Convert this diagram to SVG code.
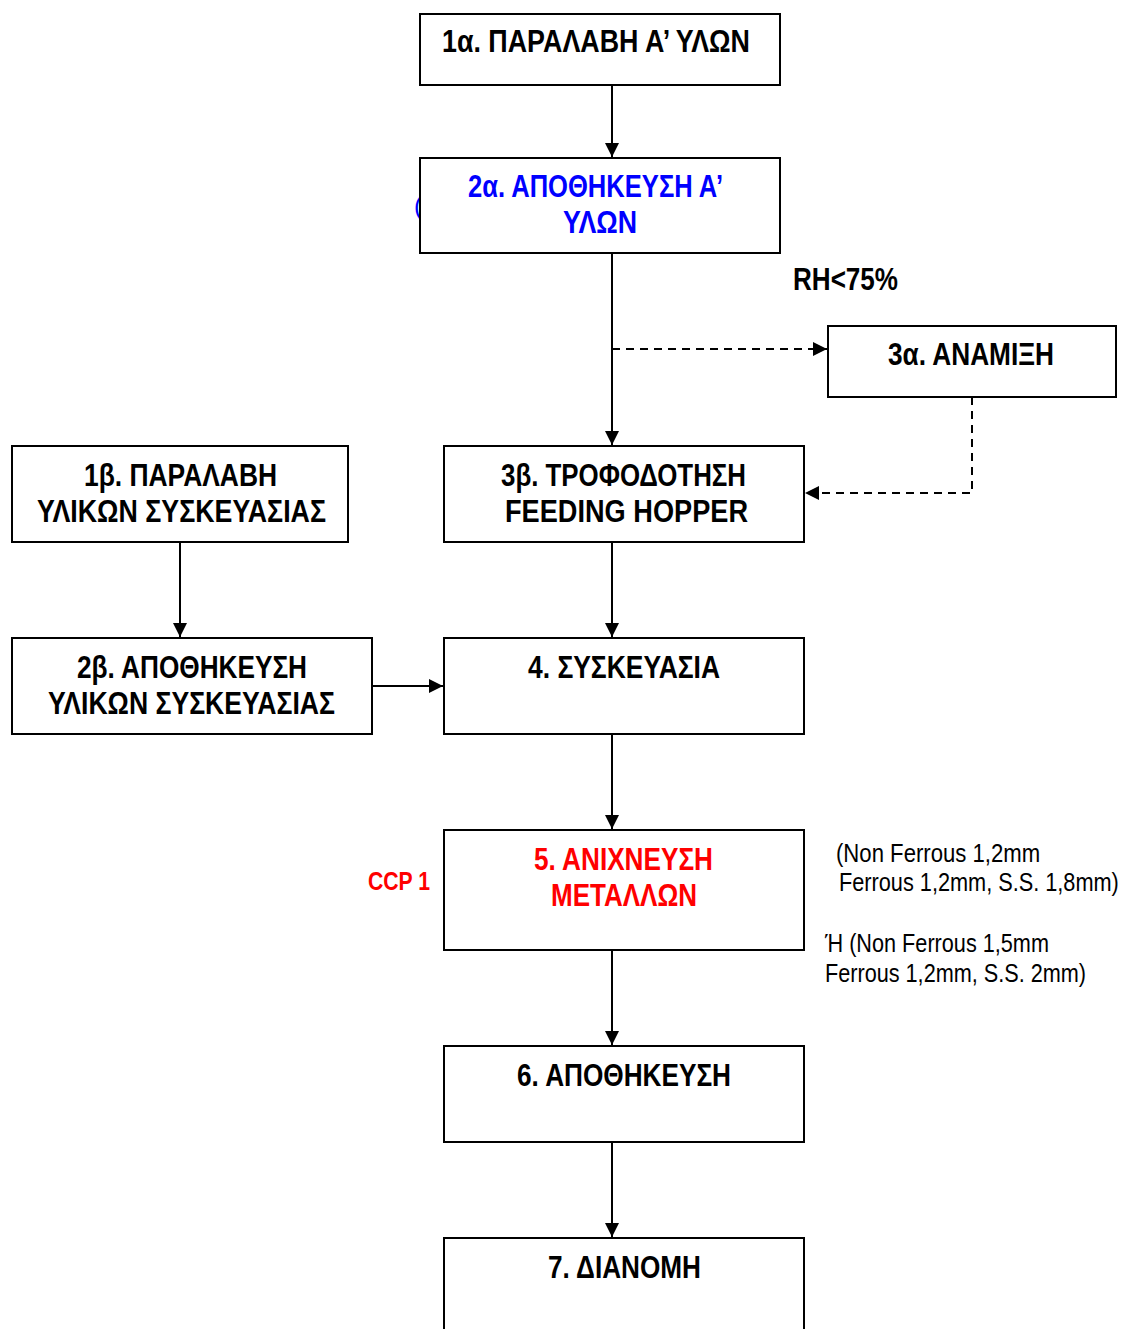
<svg xmlns="http://www.w3.org/2000/svg" width="1124" height="1329" viewBox="0 0 1124 1329">
  <style>
    .box { fill: #fff; stroke: #000; stroke-width: 2; }
    .t { font-family: "Liberation Sans Narrow", "Arial Narrow", "Liberation Sans", sans-serif; font-weight: bold; font-size: 31px; fill: #000; }
    .blue { fill: #0000ff; }
    .red { fill: #ff0000; }
    .note { font-family: "Liberation Sans Narrow", "Arial Narrow", "Liberation Sans", sans-serif; font-size: 25px; fill: #000; }
    .line { fill: none; stroke: #000; stroke-width: 2; }
    .dash { stroke-dasharray: 8 6; }
  </style>
  <defs>
    <marker id="arrow" viewBox="0 0 10 10" refX="10" refY="5" markerWidth="7" markerHeight="7" markerUnits="strokeWidth" orient="auto">
      <path d="M0,0 L10,5 L0,10 Z" fill="#000"/>
    </marker>
  </defs>
  <rect width="1124" height="1329" fill="#fff"/>

  <!-- stray bracket peeking out behind 2α -->
  <text x="414" y="215" class="t blue" style="font-size:25px;font-weight:normal">(</text>

  <g id="connectors">
    <line class="line" x1="612" y1="85" x2="612" y2="157" marker-end="url(#arrow)"/>
    <line class="line" x1="612" y1="253" x2="612" y2="445" marker-end="url(#arrow)"/>
    <line class="line dash" x1="612" y1="349" x2="827" y2="349" marker-end="url(#arrow)"/>
    <polyline class="line dash" points="972,397 972,493 805,493" marker-end="url(#arrow)"/>
    <line class="line" x1="180" y1="542" x2="180" y2="637" marker-end="url(#arrow)"/>
    <line class="line" x1="372" y1="686" x2="443" y2="686" marker-end="url(#arrow)"/>
    <line class="line" x1="612" y1="542" x2="612" y2="637" marker-end="url(#arrow)"/>
    <line class="line" x1="612" y1="734" x2="612" y2="829" marker-end="url(#arrow)"/>
    <line class="line" x1="612" y1="950" x2="612" y2="1045" marker-end="url(#arrow)"/>
    <line class="line" x1="612" y1="1142" x2="612" y2="1237" marker-end="url(#arrow)"/>
  </g>

  <g id="n1a">
    <rect class="box" x="420" y="14" width="360" height="71"/>
    <text class="t" x="442" y="52" textLength="308" lengthAdjust="spacingAndGlyphs">1α. ΠΑΡΑΛΑΒΗ Α’ ΥΛΩΝ</text>
  </g>

  <g id="n2a">
    <rect class="box" x="420" y="158" width="360" height="95"/>
    <text class="t blue" x="468" y="197" textLength="255" lengthAdjust="spacingAndGlyphs">2α. ΑΠΟΘΗΚΕΥΣΗ Α’</text>
    <text class="t blue" x="563" y="233" textLength="74" lengthAdjust="spacingAndGlyphs">ΥΛΩΝ</text>
  </g>

  <text id="rh" class="t" x="793" y="290" textLength="105" lengthAdjust="spacingAndGlyphs">RH&lt;75%</text>

  <g id="n3a">
    <rect class="box" x="828" y="326" width="288" height="71"/>
    <text class="t" x="888" y="365" textLength="166" lengthAdjust="spacingAndGlyphs">3α. ΑΝΑΜΙΞΗ</text>
  </g>

  <g id="n1b">
    <rect class="box" x="12" y="446" width="336" height="96"/>
    <text class="t" x="84" y="486" textLength="193" lengthAdjust="spacingAndGlyphs">1β. ΠΑΡΑΛΑΒΗ</text>
    <text class="t" x="37" y="522" textLength="289" lengthAdjust="spacingAndGlyphs">ΥΛΙΚΩΝ ΣΥΣΚΕΥΑΣΙΑΣ</text>
  </g>

  <g id="n3b">
    <rect class="box" x="444" y="446" width="360" height="96"/>
    <text class="t" x="501" y="486" textLength="245" lengthAdjust="spacingAndGlyphs">3β. ΤΡΟΦΟΔΟΤΗΣΗ</text>
    <text class="t" x="505" y="522" textLength="243" lengthAdjust="spacingAndGlyphs">FEEDING HOPPER</text>
  </g>

  <g id="n2b">
    <rect class="box" x="12" y="638" width="360" height="96"/>
    <text class="t" x="77" y="678" textLength="230" lengthAdjust="spacingAndGlyphs">2β. ΑΠΟΘΗΚΕΥΣΗ</text>
    <text class="t" x="48" y="714" textLength="287" lengthAdjust="spacingAndGlyphs">ΥΛΙΚΩΝ ΣΥΣΚΕΥΑΣΙΑΣ</text>
  </g>

  <g id="n4">
    <rect class="box" x="444" y="638" width="360" height="96"/>
    <text class="t" x="528" y="678" textLength="192" lengthAdjust="spacingAndGlyphs">4. ΣΥΣΚΕΥΑΣΙΑ</text>
  </g>

  <g id="n5">
    <rect class="box" x="444" y="830" width="360" height="120"/>
    <text class="t red" x="534" y="870" textLength="179" lengthAdjust="spacingAndGlyphs">5. ΑΝΙΧΝΕΥΣΗ</text>
    <text class="t red" x="551" y="906" textLength="146" lengthAdjust="spacingAndGlyphs">ΜΕΤΑΛΛΩΝ</text>
  </g>

  <text id="ccp" class="t red" x="368" y="890" style="font-size:26px" textLength="62" lengthAdjust="spacingAndGlyphs">CCP 1</text>

  <!-- detector sensitivity notes, condensed horizontally -->
  <g id="notes" transform="scale(0.88,1)">
    <text class="note" x="950" y="862" textLength="232" lengthAdjust="spacingAndGlyphs">(Non Ferrous 1,2mm</text>
    <text class="note" x="953.4" y="891" textLength="318" lengthAdjust="spacingAndGlyphs">Ferrous 1,2mm, S.S. 1,8mm)</text>
    <text class="note" x="937.5" y="952" textLength="254.5" lengthAdjust="spacingAndGlyphs">Ή (Non Ferrous 1,5mm</text>
    <text class="note" x="937.5" y="982" textLength="296.6" lengthAdjust="spacingAndGlyphs">Ferrous 1,2mm, S.S. 2mm)</text>
  </g>

  <g id="n6">
    <rect class="box" x="444" y="1046" width="360" height="96"/>
    <text class="t" x="517" y="1086" textLength="214" lengthAdjust="spacingAndGlyphs">6. ΑΠΟΘΗΚΕΥΣΗ</text>
  </g>

  <g id="n7">
    <rect class="box" x="444" y="1238" width="360" height="100"/>
    <text class="t" x="548" y="1278" textLength="153" lengthAdjust="spacingAndGlyphs">7. ΔΙΑΝΟΜΗ</text>
  </g>
</svg>
